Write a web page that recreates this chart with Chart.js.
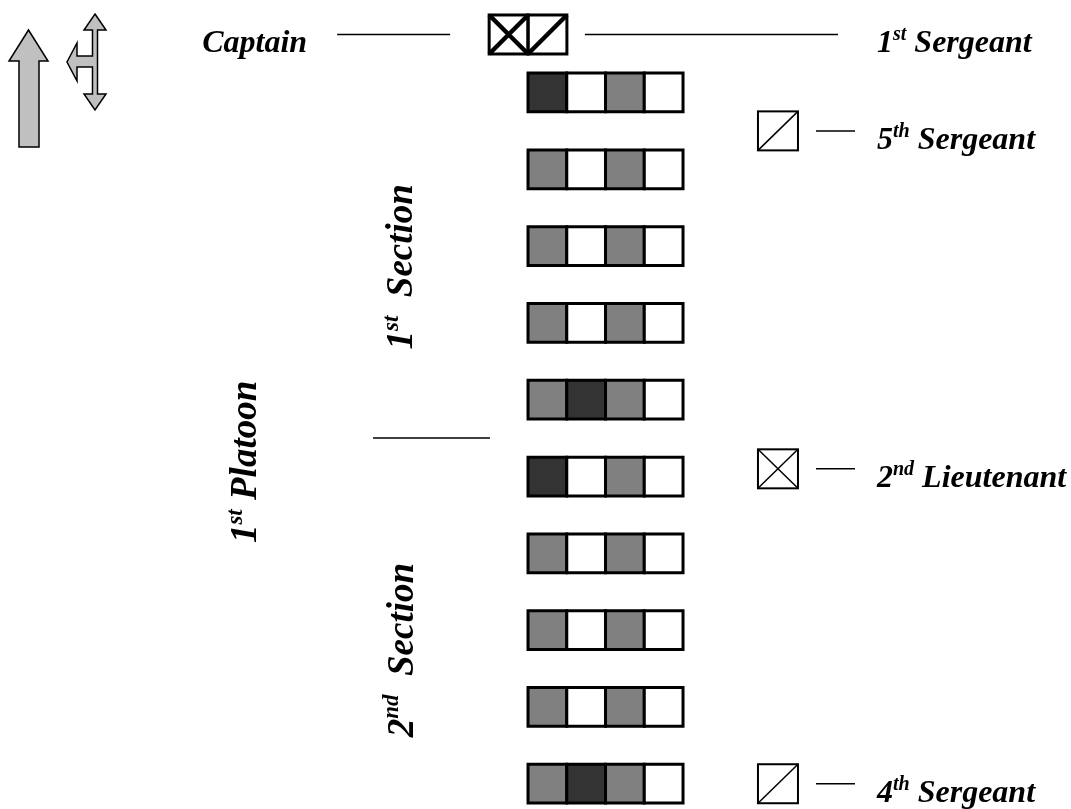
<!DOCTYPE html>
<html>
<head>
<meta charset="utf-8">
<script src="https://cdn.jsdelivr.net/npm/chart.js@4.4.1/dist/chart.umd.min.js"></script>
<style>
  html, body { margin: 0; background: #fff; }
  #wrap { width: 1071px; height: 809px; }
</style>
</head>
<body>
<div id="wrap"><canvas id="formation"></canvas></div>
<script>
// ranks front to back, files left to right
const ranks = [1, 2, 3, 4, 5, 6, 7, 8, 9, 10];
const files = [1, 2, 3, 4];
// 0 = white, 1 = gray, 2 = dark
const rankShades = [
  [2, 0, 1, 0],
  [1, 0, 1, 0],
  [1, 0, 1, 0],
  [1, 0, 1, 0],
  [1, 2, 1, 0],
  [2, 0, 1, 0],
  [1, 0, 1, 0],
  [1, 0, 1, 0],
  [1, 0, 1, 0],
  [1, 2, 1, 0]
];
const shadeColors = ['#ffffff', '#808080', '#333333'];

const officerLabels = ['Captain', '1st Sergeant', '5th Sergeant', '2nd Lieutenant', '4th Sergeant'];
const officerSymbols = ['cross', 'slash', 'slash', 'cross', 'slash'];
const officerFile = [0, 1, 6.95, 6.95, 6.95];
const officerRank = [0.245, 0.245, 1.5, 5.9, 10];

const groupLabels = ['1st Section', '2nd Section', '1st Platoon'];

const cells = [];
const cellColors = [];
ranks.forEach((r, i) => {
  files.forEach((f, j) => {
    cells.push({ x: f, y: r });
    cellColors.push(shadeColors[rankShades[i][j]]);
  });
});

const FONT = '"Liberation Serif", "Times New Roman", serif';

function drawOrdinal(ctx, text, x, y, size, align) {
  const m = text.match(/^(\d)(st|nd|rd|th)(\s+)(.*)$/);
  const big = `italic bold ${size}px ${FONT}`;
  const small = `italic bold ${Math.round(size * 0.62)}px ${FONT}`;
  ctx.textBaseline = 'alphabetic';
  ctx.textAlign = 'left';
  if (!m) {
    ctx.font = big;
    const w = ctx.measureText(text).width;
    ctx.fillText(text, align === 'right' ? x - w : (align === 'center' ? x - w / 2 : x), y);
    return;
  }
  ctx.font = big;
  const w1 = ctx.measureText(m[1]).width;
  const w3 = ctx.measureText(m[4]).width;
  const gap = ctx.measureText(m[3]).width;
  ctx.font = small;
  const w2 = ctx.measureText(m[2]).width;
  const total = w1 + w2 + gap + w3;
  const x0 = align === 'right' ? x - total : (align === 'center' ? x - total / 2 : x);
  ctx.font = big;
  ctx.fillText(m[1], x0, y);
  ctx.font = small;
  ctx.fillText(m[2], x0 + w1, y - size * 0.38);
  ctx.font = big;
  ctx.fillText(m[4], x0 + w1 + w2 + gap, y);
}

function drawBox(ctx, cx, cy, w, h, kind, heavy) {
  const l = cx - w / 2, t = cy - h / 2;
  ctx.strokeStyle = '#000';
  ctx.lineCap = 'butt';
  ctx.lineWidth = heavy ? 4.5 : 1.5;
  ctx.beginPath();
  if (kind === 'cross') {
    ctx.moveTo(l, t); ctx.lineTo(l + w, t + h);
    ctx.moveTo(l + w, t); ctx.lineTo(l, t + h);
  } else {
    ctx.moveTo(l, t + h); ctx.lineTo(l + w, t);
  }
  ctx.stroke();
  ctx.lineWidth = heavy ? 3 : 2;
  ctx.strokeRect(l, t, w, h);
}

function polygon(ctx, pts) {
  ctx.beginPath();
  pts.forEach((p, i) => (i ? ctx.lineTo(p[0], p[1]) : ctx.moveTo(p[0], p[1])));
  ctx.closePath();
  ctx.fillStyle = '#c0c0c0';
  ctx.fill();
  ctx.lineWidth = 1.5;
  ctx.strokeStyle = '#000';
  ctx.lineJoin = 'miter';
  ctx.stroke();
}

const decor = {
  id: 'decor',
  afterDatasetsDraw(chart) {
    const { ctx, scales: { x, y } } = chart;
    ctx.save();
    ctx.fillStyle = '#000';

    // direction arrows
    polygon(ctx, [[28.5, 30], [48, 61], [39, 61], [39, 147], [19, 147], [19, 61], [9, 61]]);
    polygon(ctx, [[95, 14], [106, 30], [97.5, 30], [97.5, 94], [106, 94], [95, 110], [84, 94], [92.5, 94],
      [92.5, 67], [77, 67], [77, 81], [67, 62], [77, 43], [77, 56], [92.5, 56], [92.5, 30], [84, 30]]);

    // officers
    officerLabels.forEach((name, i) => {
      const cx = x.getPixelForValue(officerFile[i]);
      const cy = y.getPixelForValue(officerRank[i]);
      const heavy = i < 2;
      const w = heavy ? 39 : 40;
      drawBox(ctx, cx, cy, w, 39, officerSymbols[i], heavy);
      ctx.lineWidth = 1.5;
      ctx.strokeStyle = '#000';
      ctx.fillStyle = '#000';
      ctx.beginPath();
      if (i === 0) {
        ctx.moveTo(cx - w / 2 - 152, cy); ctx.lineTo(cx - w / 2 - 39, cy);
        ctx.stroke();
        drawOrdinal(ctx, name, cx - w / 2 - 182, cy + 18, 32, 'right');
      } else {
        const end = i === 1 ? 838 : 855;
        ctx.moveTo(cx + w / 2 + 18, cy); ctx.lineTo(end, cy);
        ctx.stroke();
        drawOrdinal(ctx, name, 877, cy + 18, 32, 'left');
      }
    });

    // section divider
    const dy = y.getPixelForValue(5.5);
    ctx.lineWidth = 1.5;
    ctx.beginPath();
    ctx.moveTo(x.getPixelForValue(-3.5), dy);
    ctx.lineTo(x.getPixelForValue(-0.48), dy);
    ctx.stroke();

    // vertical group labels
    const groupPos = [[-2.5, 3.27], [-2.48, 8.26], [-6.52, 5.81]];
    groupLabels.forEach((lbl, i) => {
      ctx.save();
      ctx.translate(x.getPixelForValue(groupPos[i][0]), y.getPixelForValue(groupPos[i][1]));
      ctx.rotate(-Math.PI / 2);
      ctx.fillStyle = '#000';
      drawOrdinal(ctx, i < 2 ? lbl.replace(' ', '  ') : lbl, 0, 0, 37, 'center');
      ctx.restore();
    });
    ctx.restore();
  }
};

new Chart(document.getElementById('formation'), {
  type: 'scatter',
  data: {
    datasets: [{
      data: cells,
      pointStyle: 'rect',
      pointRadius: 27.4,
      pointBackgroundColor: cellColors,
      pointBorderColor: '#000',
      pointBorderWidth: 3
    }]
  },
  options: {
    responsive: true,
    maintainAspectRatio: false,
    animation: false,
    events: [],
    layout: { padding: 0, autoPadding: false },
    plugins: { legend: { display: false }, tooltip: { enabled: false } },
    scales: {
      x: { type: 'linear', display: false, min: -13.126, max: 14.512 },
      y: { type: 'linear', display: false, reverse: true, min: -0.204, max: 10.329 }
    }
  },
  plugins: [decor]
});
</script>
</body>
</html>
